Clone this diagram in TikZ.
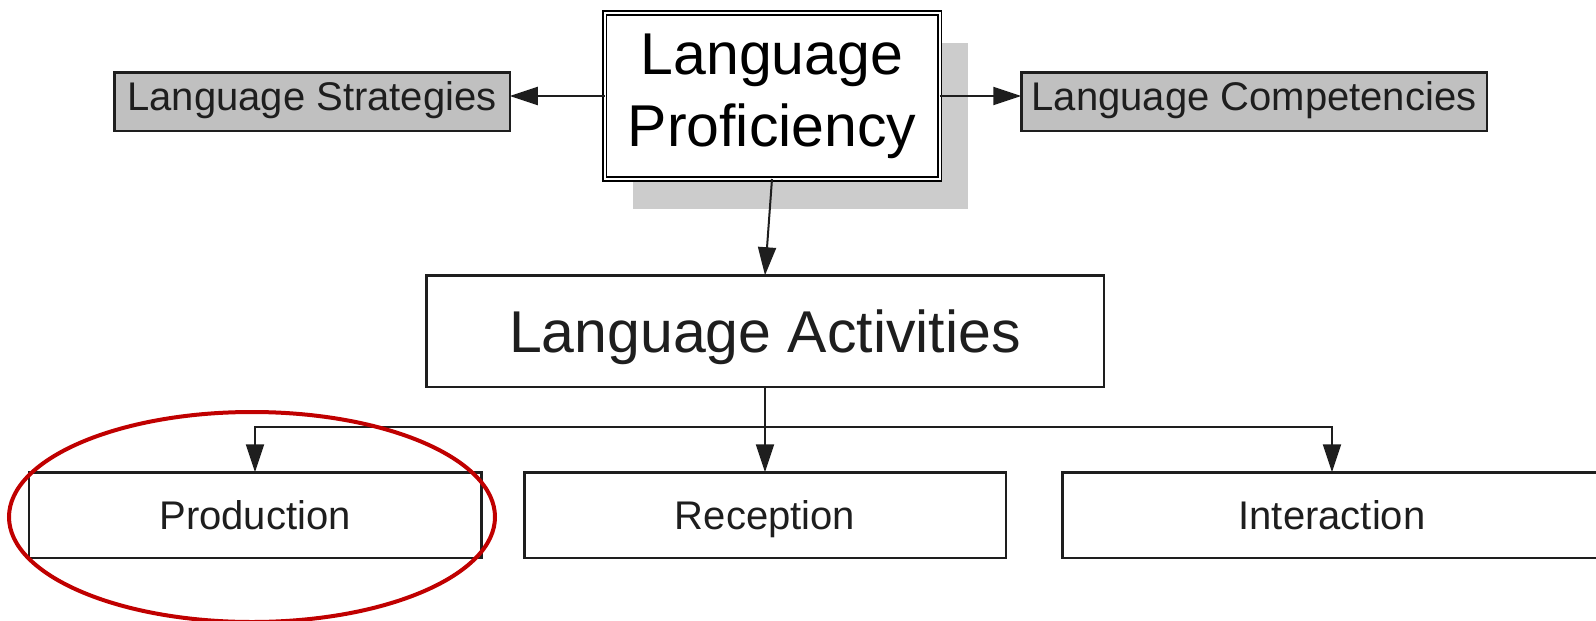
\documentclass[tikz,border=0pt]{standalone}
\usepackage{fontspec}
\setmainfont{Liberation Sans}
\usetikzlibrary{arrows.meta, positioning, shapes.geometric, shadows}
\definecolor{stratgray}{HTML}{C0C0C0}
\definecolor{shadowgray}{HTML}{CCCCCC}
\definecolor{markred}{HTML}{C00000}
\definecolor{inkdark}{HTML}{1E1E1E}

\begin{document}
\begin{tikzpicture}[
    x=1pt, y=-1pt,
    box/.style={rectangle, draw=inkdark, line width=2.5pt, fill=white, align=center, inner sep=0pt, outer sep=0pt,
                text=inkdark, font=\fontsize{40}{46}\selectfont, text height=28.6pt, text depth=0pt},
    sidebox/.style={box, fill=stratgray, minimum height=58.5pt, text depth=11pt},
    subbox/.style={box, minimum height=85.5pt},
    arrow/.style={-{Triangle[length=28pt, width=18pt]}, line width=2pt, draw=inkdark},
    ring/.style={draw=markred, line width=4pt}
]
\useasboundingbox (0,0) rectangle (1596,621);

\node[rectangle, draw=black, line width=1.6pt, double=white, double distance=2pt, fill=white,
      minimum width=335pt, minimum height=166pt, align=center, inner sep=0pt, outer sep=0pt,
      font=\fontsize{59}{72}\selectfont,
      drop shadow={shadow xshift=28pt, shadow yshift=-30pt, fill=shadowgray, opacity=1}]
      (prof) at (772,96) {Language\\Proficiency};
\node[sidebox, minimum width=395.5pt, left=94.75pt of prof, yshift=-5.5pt] (strat) {Language Strategies};
\node[sidebox, minimum width=465.5pt, right=81.75pt of prof, yshift=-5.5pt] (comp) {Language Competencies};
\node[box, minimum width=677.5pt, minimum height=111.5pt, font=\fontsize{59}{68}\selectfont, text height=42.2pt,
      below=96.25pt of prof, xshift=-7pt] (act) {Language Activities};
\node[subbox, minimum width=481.5pt, below=85.5pt of act] (rec) {Reception};
\node[subbox, minimum width=452.5pt, left=43pt of rec] (prod) {Production};
\node[subbox, minimum width=539.5pt, right=56.5pt of rec] (inter) {Interaction};
\coordinate[below=40pt of act.south] (split);

\draw[arrow] (prof.west) -- (prof.west -| strat.east);
\draw[arrow] (prof.east) -- (prof.east -| comp.west);
\draw[arrow] (prof.south) -- (act.north);
\draw[arrow] (act.south) -- (rec.north);
\draw[arrow] (split) -| (prod.north);
\draw[arrow] (split) -| (inter.north);

% highlight round Production
\draw[ring] ([xshift=-3pt, yshift=-2pt]prod.center) ellipse [x radius=243pt, y radius=105pt];
\end{tikzpicture}
\end{document}
